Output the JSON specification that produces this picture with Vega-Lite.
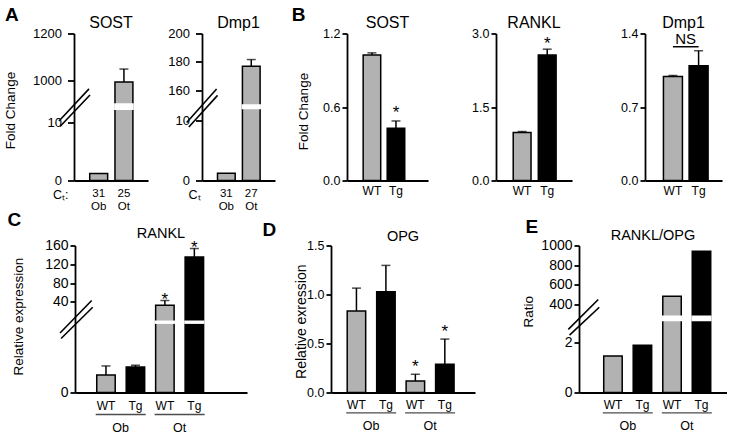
{
 "$schema": "https://vega.github.io/schema/vega-lite/v6.json",
 "background": "white",
 "padding": {"left": 0, "top": 5.5, "right": 0, "bottom": 0},
 "config": {
  "font": "Liberation Sans",
  "view": {"stroke": null},
  "axis": {"grid": false, "labelOverlap": false, "domainColor": "#000", "domainWidth": 1.8, "tickColor": "#000", "tickWidth": 1.8, "labelColor": "#000", "titleColor": "#000", "titleFontWeight": "normal", "labelFont": "Liberation Sans", "titleFont": "Liberation Sans"},
  "axisY": {"tickSize": 5, "labelPadding": 2, "labelFontSize": 13, "titleFontSize": 13.5, "tickCount": 10},
  "axisX": {"ticks": false, "labelAngle": 0, "labelFontSize": 12},
  "title": {"color": "#000", "fontWeight": "normal", "font": "Liberation Sans", "frame": "group", "baseline": "alphabetic"}
 },
 "spacing": -2,
 "vconcat": [
  {"hconcat": [
  {"width": 74, "height": 147, "data": {"values": []}, "mark": "point", "title": {"text": "A", "anchor": "start", "dx": 5, "offset": 8.6, "fontSize": 19, "fontWeight": "bold"}},
  {
   "width": 74, "height": 147,
   "title": {"text": "SOST", "fontSize": 16, "offset": -3.5},
   "data": {"values": [
     {"cells": "31|Ob", "mean": 1.2, "upper": null},
     {"cells": "25|Ot", "mean": 995, "upper": 1050}]},
   "layer": [
    {"layer": [
     {"mark": {"type": "bar", "fill": "#b2b2b2", "stroke": "#000", "strokeWidth": 1.5},
      "encoding": {
       "x": {"field": "cells", "type": "nominal", "title": "C\u209c:",
             "scale": {"domain": ["31|Ob", "25|Ot"], "paddingInner": 0.29, "paddingOuter": 0.61, "align": 0.51},
             "axis": {"labelExpr": "split(datum.label, '|')", "labelLineHeight": 13.2, "labelPadding": 6.5, "labelFontSize": 11.5, "titleX": -21.5, "titleY": 17.5, "titleAlign": "left", "titleBaseline": "alphabetic", "titleFontSize": 12.5}},
       "y": {"field": "mean", "type": "quantitative", "title": "Fold Change",
             "scale": {"domain": [0, 12.3, 902.3, 1200], "range": [147, 75.55, 70.55, 0], "nice": false, "zero": false},
             "axis": {"values": [0, 10, 1000, 1200], "tickCount": 10, "format": "d", "labelOverlap": false, "tickSize": 6.5, "labelPadding": 6, "titleX": -63.5, "titleY": 76.5, "titleBaseline": "middle"}}}},
     {"transform": [{"filter": "datum.mean > 12.3"}],
      "mark": {"type": "bar", "fill": "#fff", "stroke": "#fff", "strokeWidth": 1.7},
      "encoding": {"x": {"field": "cells", "type": "nominal", "title": "C\u209c:"}, "y": {"datum": 12.3, "type": "quantitative", "title": "Fold Change"}, "y2": {"datum": 902.3}}},
     {"transform": [{"filter": "isValid(datum.upper)"}],
      "mark": {"type": "rule", "color": "#000", "strokeWidth": 1.5},
      "encoding": {"x": {"field": "cells", "type": "nominal", "title": "C\u209c:"}, "y": {"field": "mean", "type": "quantitative", "title": "Fold Change"}, "y2": {"field": "upper"}}},
     {"transform": [{"filter": "isValid(datum.upper)"}],
      "mark": {"type": "tick", "color": "#000", "size": 9, "thickness": 1.5},
      "encoding": {"x": {"field": "cells", "type": "nominal", "title": "C\u209c:"}, "y": {"field": "upper", "type": "quantitative", "title": "Fold Change"}}}
    ]},
    {"data": {"values": [{"note": "axis break"}]}, "mark": {"type": "rule", "color": "#000", "strokeWidth": 1.6},
     "encoding": {"x": {"datum": -0.203, "type": "quantitative", "scale": {"domain": [0, 1]}, "axis": null}, "x2": {"datum": 0.203},
                  "y": {"datum": 0.405, "type": "quantitative", "scale": {"domain": [0, 1]}, "axis": null}, "y2": {"datum": 0.623}}},
    {"data": {"values": [{"note": "axis break"}]}, "mark": {"type": "rule", "color": "#000", "strokeWidth": 1.6},
     "encoding": {"x": {"datum": -0.189, "type": "quantitative", "scale": {"domain": [0, 1]}, "axis": null}, "x2": {"datum": 0.216},
                  "y": {"datum": 0.367, "type": "quantitative", "scale": {"domain": [0, 1]}, "axis": null}, "y2": {"datum": 0.582}}}
   ],
   "resolve": {"scale": {"x": "independent", "y": "independent"}}
  },
  {"width": 54, "height": 147, "data": {"values": []}, "mark": "point"},
  {
   "width": 73, "height": 147,
   "title": {"text": "Dmp1", "fontSize": 16, "offset": -3.5},
   "data": {"values": [
     {"cells": "31|Ob", "mean": 1.2, "upper": null},
     {"cells": "27|Ot", "mean": 176.9, "upper": 181.6}]},
   "layer": [
    {"layer": [
     {"mark": {"type": "bar", "fill": "#b2b2b2", "stroke": "#000", "strokeWidth": 1.5},
      "encoding": {
       "x": {"field": "cells", "type": "nominal", "title": "C\u209c",
             "scale": {"domain": ["31|Ob", "27|Ot"], "paddingInner": 0.29, "paddingOuter": 0.61, "align": 0.51},
             "axis": {"labelExpr": "split(datum.label, '|')", "labelLineHeight": 13.2, "labelPadding": 6.5, "labelFontSize": 11.5, "titleX": -14, "titleY": 17.5, "titleAlign": "left", "titleBaseline": "alphabetic", "titleFontSize": 12.5}},
       "y": {"field": "mean", "type": "quantitative", "title": null,
             "scale": {"domain": [0, 12.09, 149.5, 200], "range": [147, 74.85, 71.55, 0], "nice": false, "zero": false},
             "axis": {"values": [0, 10, 160, 180, 200], "tickCount": 10, "format": "d", "labelOverlap": false, "tickSize": 6.5, "labelPadding": 6}}}},
     {"transform": [{"filter": "datum.mean > 12.09"}],
      "mark": {"type": "bar", "fill": "#fff", "stroke": "#fff", "strokeWidth": 1.7},
      "encoding": {"x": {"field": "cells", "type": "nominal", "title": "C\u209c"}, "y": {"datum": 12.09, "type": "quantitative", "title": null}, "y2": {"datum": 149.5}}},
     {"transform": [{"filter": "isValid(datum.upper)"}],
      "mark": {"type": "rule", "color": "#000", "strokeWidth": 1.5},
      "encoding": {"x": {"field": "cells", "type": "nominal", "title": "C\u209c"}, "y": {"field": "mean", "type": "quantitative", "title": null}, "y2": {"field": "upper"}}},
     {"transform": [{"filter": "isValid(datum.upper)"}],
      "mark": {"type": "tick", "color": "#000", "size": 9, "thickness": 1.5},
      "encoding": {"x": {"field": "cells", "type": "nominal", "title": "C\u209c"}, "y": {"field": "upper", "type": "quantitative", "title": null}}}
    ]},
    {"data": {"values": [{"note": "axis break"}]}, "mark": {"type": "rule", "color": "#000", "strokeWidth": 1.6},
     "encoding": {"x": {"datum": -0.21, "type": "quantitative", "scale": {"domain": [0, 1]}, "axis": null}, "x2": {"datum": 0.2},
                  "y": {"datum": 0.395, "type": "quantitative", "scale": {"domain": [0, 1]}, "axis": null}, "y2": {"datum": 0.622}}},
    {"data": {"values": [{"note": "axis break"}]}, "mark": {"type": "rule", "color": "#000", "strokeWidth": 1.6},
     "encoding": {"x": {"datum": -0.18, "type": "quantitative", "scale": {"domain": [0, 1]}, "axis": null}, "x2": {"datum": 0.213},
                  "y": {"datum": 0.364, "type": "quantitative", "scale": {"domain": [0, 1]}, "axis": null}, "y2": {"datum": 0.579}}}
   ],
   "resolve": {"scale": {"x": "independent", "y": "independent"}}
  },
  {"width": 72, "height": 147, "data": {"values": []}, "mark": "point", "title": {"text": "B", "anchor": "start", "dx": 16.7, "offset": 8.6, "fontSize": 19, "fontWeight": "bold"}},
  {
   "width": 81, "height": 147,
   "title": {"text": "SOST", "fontSize": 16, "offset": -3.5},
   "data": {"values": [
     {"genotype": "WT", "mean": 1.024, "upper": 1.042},
     {"genotype": "Tg", "mean": 0.427, "upper": 0.486, "sig": "*"}]},
   "layer": [
    {"mark": {"type": "bar", "stroke": "#000", "strokeWidth": 1.5},
     "encoding": {
      "x": {"field": "genotype", "type": "nominal", "title": null,
            "scale": {"domain": ["WT", "Tg"], "paddingInner": 0.27, "paddingOuter": 0.82, "align": 0.41},
            "axis": {"labelPadding": 5, "labelFontSize": 12}},
      "y": {"field": "mean", "type": "quantitative", "title": "Fold Change",
            "scale": {"domain": [0, 1.2], "nice": false},
            "axis": {"values": [0, 0.6, 1.2], "format": ".1f", "labelOverlap": false, "labelFontSize": 12.5, "titleX": -43.7, "titleY": 77.5, "titleBaseline": "middle"}},
      "fill": {"field": "genotype", "type": "nominal", "scale": {"domain": ["WT", "Tg"], "range": ["#b2b2b2", "#000000"]}, "legend": null}}},
    {"mark": {"type": "rule", "color": "#000", "strokeWidth": 1.5},
     "encoding": {"x": {"field": "genotype", "type": "nominal", "title": null}, "y": {"field": "mean", "type": "quantitative", "title": "Fold Change"}, "y2": {"field": "upper"}}},
    {"mark": {"type": "tick", "color": "#000", "size": 9, "thickness": 1.5},
     "encoding": {"x": {"field": "genotype", "type": "nominal", "title": null}, "y": {"field": "upper", "type": "quantitative", "title": "Fold Change"}}},
    {"transform": [{"filter": "isValid(datum.sig)"}],
     "mark": {"type": "text", "fontSize": 17, "baseline": "alphabetic", "dy": -3},
     "encoding": {"x": {"field": "genotype", "type": "nominal", "title": null}, "y": {"field": "upper", "type": "quantitative", "title": "Fold Change"}, "text": {"field": "sig"}}}
   ]
  },
  {"width": 68, "height": 147, "data": {"values": []}, "mark": "point"},
  {
   "width": 76, "height": 147,
   "title": {"text": "RANKL", "fontSize": 16, "offset": -3.5},
   "data": {"values": [
     {"genotype": "WT", "mean": 0.981, "upper": 1.0},
     {"genotype": "Tg", "mean": 2.56, "upper": 2.68, "sig": "*"}]},
   "layer": [
    {"mark": {"type": "bar", "stroke": "#000", "strokeWidth": 1.5},
     "encoding": {
      "x": {"field": "genotype", "type": "nominal", "title": null,
            "scale": {"domain": ["WT", "Tg"], "paddingInner": 0.29, "paddingOuter": 0.66, "align": 0.52},
            "axis": {"labelPadding": 5, "labelFontSize": 12}},
      "y": {"field": "mean", "type": "quantitative", "title": null,
            "scale": {"domain": [0, 3], "nice": false},
            "axis": {"values": [0, 1.5, 3], "format": ".1f", "labelOverlap": false, "labelFontSize": 12.5}},
      "fill": {"field": "genotype", "type": "nominal", "scale": {"domain": ["WT", "Tg"], "range": ["#b2b2b2", "#000000"]}, "legend": null}}},
    {"mark": {"type": "rule", "color": "#000", "strokeWidth": 1.5},
     "encoding": {"x": {"field": "genotype", "type": "nominal", "title": null}, "y": {"field": "mean", "type": "quantitative", "title": null}, "y2": {"field": "upper"}}},
    {"mark": {"type": "tick", "color": "#000", "size": 9, "thickness": 1.5},
     "encoding": {"x": {"field": "genotype", "type": "nominal", "title": null}, "y": {"field": "upper", "type": "quantitative", "title": null}}},
    {"transform": [{"filter": "isValid(datum.sig)"}],
     "mark": {"type": "text", "fontSize": 17, "baseline": "alphabetic", "dy": -0.5},
     "encoding": {"x": {"field": "genotype", "type": "nominal", "title": null}, "y": {"field": "upper", "type": "quantitative", "title": null}, "text": {"field": "sig"}}}
   ]
  },
  {"width": 73, "height": 147, "data": {"values": []}, "mark": "point"},
  {
   "width": 77, "height": 147,
   "title": {"text": "Dmp1", "fontSize": 16, "offset": -3.5},
   "data": {"values": [
     {"genotype": "WT", "mean": 0.99, "upper": 1.0},
     {"genotype": "Tg", "mean": 1.094, "upper": 1.236}]},
   "layer": [
    {"mark": {"type": "bar", "stroke": "#000", "strokeWidth": 1.5},
     "encoding": {
      "x": {"field": "genotype", "type": "nominal", "title": null,
            "scale": {"domain": ["WT", "Tg"], "paddingInner": 0.26, "paddingOuter": 0.63, "align": 0.57},
            "axis": {"labelPadding": 5, "labelFontSize": 12}},
      "y": {"field": "mean", "type": "quantitative", "title": null,
            "scale": {"domain": [0, 1.4], "nice": false},
            "axis": {"values": [0, 0.7, 1.4], "format": ".1f", "labelOverlap": false, "labelFontSize": 12.5}},
      "fill": {"field": "genotype", "type": "nominal", "scale": {"domain": ["WT", "Tg"], "range": ["#b2b2b2", "#000000"]}, "legend": null}}},
    {"mark": {"type": "rule", "color": "#000", "strokeWidth": 1.5},
     "encoding": {"x": {"field": "genotype", "type": "nominal", "title": null}, "y": {"field": "mean", "type": "quantitative", "title": null}, "y2": {"field": "upper"}}},
    {"mark": {"type": "tick", "color": "#000", "size": 9, "thickness": 1.5},
     "encoding": {"x": {"field": "genotype", "type": "nominal", "title": null}, "y": {"field": "upper", "type": "quantitative", "title": null}}},
    {"data": {"values": [{"from": "WT", "to": "Tg", "label": "NS"}]},
     "mark": {"type": "rule", "color": "#000", "strokeWidth": 1.5},
     "encoding": {"x": {"field": "from", "type": "nominal", "title": null}, "x2": {"field": "to"}, "y": {"datum": 1.274, "type": "quantitative", "title": null}}},
    {"data": {"values": [{"from": "WT", "to": "Tg", "label": "NS"}]},
     "mark": {"type": "text", "fontSize": 15, "baseline": "alphabetic", "dx": 12.7, "dy": -3},
     "encoding": {"x": {"field": "from", "type": "nominal", "title": null}, "y": {"datum": 1.274, "type": "quantitative", "title": null}, "text": {"field": "label"}}}
   ]
  }
  ], "spacing": 0, "bounds": "flush"},
  {"hconcat": [
  {"width": 75, "height": 147, "data": {"values": []}, "mark": "point", "title": {"text": "C", "anchor": "start", "dx": 7.5, "offset": 15.3, "fontSize": 19, "fontWeight": "bold"}},
  {
   "width": 172, "height": 147,
   "title": {"text": "RANKL", "fontSize": 14.5, "offset": -2.5},
   "data": {"values": [
     {"cell": "Ob", "genotype": "WT", "mean": 1.0, "upper": 1.51},
     {"cell": "Ob", "genotype": "Tg", "mean": 1.45, "upper": 1.55},
     {"cell": "Ot", "genotype": "WT", "mean": 33.9, "upper": 43, "sig": "*"},
     {"cell": "Ot", "genotype": "Tg", "mean": 135.7, "upper": 153.6, "sig": "*"}]},
   "layer": [
    {"layer": [
     {"mark": {"type": "bar", "stroke": "#000", "strokeWidth": 1.5},
      "encoding": {
       "x": {"field": "cell", "type": "nominal", "title": null,
             "scale": {"domain": ["Ob", "Ot"], "paddingInner": 0, "paddingOuter": 0.46, "align": 0.3},
             "axis": {"labelPadding": 28.5, "labelFontSize": 12.5}},
       "xOffset": {"field": "genotype", "type": "nominal", "scale": {"domain": ["WT", "Tg"], "paddingInner": 0.373, "paddingOuter": 0.186}},
       "y": {"field": "mean", "type": "quantitative", "title": "Relative expression",
             "scale": {"domain": [0, 3.95, 4, 40, 160], "range": [147, 77.55, 75.85, 56.4, 0], "nice": false, "zero": false},
             "axis": {"values": [0, 40, 80, 120, 160], "tickCount": 10, "format": "d", "labelOverlap": false, "labelFontSize": 14, "titleX": -56.7, "titleY": 70.7, "titleBaseline": "middle"}},
       "fill": {"field": "genotype", "type": "nominal", "scale": {"domain": ["WT", "Tg"], "range": ["#b2b2b2", "#000000"]}, "legend": null}}},
     {"transform": [{"filter": "datum.mean > 4"}],
      "mark": {"type": "bar", "fill": "#fff", "stroke": "#fff", "strokeWidth": 1.7},
      "encoding": {"x": {"field": "cell", "type": "nominal", "title": null}, "xOffset": {"field": "genotype", "type": "nominal"}, "y": {"datum": 3.95, "type": "quantitative", "title": "Relative expression"}, "y2": {"datum": 4}}},
     {"mark": {"type": "rule", "color": "#000", "strokeWidth": 1.5},
      "encoding": {"x": {"field": "cell", "type": "nominal", "title": null}, "xOffset": {"field": "genotype", "type": "nominal"}, "y": {"field": "mean", "type": "quantitative", "title": "Relative expression"}, "y2": {"field": "upper"}}},
     {"mark": {"type": "tick", "color": "#000", "size": 9, "thickness": 1.5},
      "encoding": {"x": {"field": "cell", "type": "nominal", "title": null}, "xOffset": {"field": "genotype", "type": "nominal"}, "y": {"field": "upper", "type": "quantitative", "title": "Relative expression"}}},
     {"transform": [{"filter": "isValid(datum.sig)"}],
      "mark": {"type": "text", "fontSize": 17, "baseline": "alphabetic", "dy": 4.5},
      "encoding": {"x": {"field": "cell", "type": "nominal", "title": null}, "xOffset": {"field": "genotype", "type": "nominal"}, "y": {"field": "upper", "type": "quantitative", "title": "Relative expression"}, "text": {"field": "sig"}}},
     {"mark": {"type": "text", "fontSize": 12, "baseline": "alphabetic"},
      "encoding": {"x": {"field": "cell", "type": "nominal", "title": null}, "xOffset": {"field": "genotype", "type": "nominal"}, "y": {"datum": -1.0, "type": "quantitative", "title": "Relative expression"}, "text": {"field": "genotype"}}},
     {"transform": [{"filter": "datum.genotype == 'WT'"}],
      "mark": {"type": "tick", "color": "#000", "size": 50, "thickness": 1.3},
      "encoding": {"x": {"field": "cell", "type": "nominal", "title": null}, "y": {"datum": -1.25, "type": "quantitative", "title": "Relative expression"}}}
    ]},
    {"data": {"values": [{"note": "axis break"}]}, "mark": {"type": "rule", "color": "#000", "strokeWidth": 1.6},
     "encoding": {"x": {"datum": -0.087, "type": "quantitative", "scale": {"domain": [0, 1]}, "axis": null}, "x2": {"datum": 0.097},
                  "y": {"datum": 0.405, "type": "quantitative", "scale": {"domain": [0, 1]}, "axis": null}, "y2": {"datum": 0.626}}},
    {"data": {"values": [{"note": "axis break"}]}, "mark": {"type": "rule", "color": "#000", "strokeWidth": 1.6},
     "encoding": {"x": {"datum": -0.081, "type": "quantitative", "scale": {"domain": [0, 1]}, "axis": null}, "x2": {"datum": 0.103},
                  "y": {"datum": 0.367, "type": "quantitative", "scale": {"domain": [0, 1]}, "axis": null}, "y2": {"datum": 0.58}}}
   ],
   "resolve": {"scale": {"x": "independent", "y": "independent"}}
  },
  {"width": 84, "height": 147, "data": {"values": []}, "mark": "point", "title": {"text": "D", "anchor": "start", "dx": 15.5, "offset": 5.3, "fontSize": 19, "fontWeight": "bold"}},
  {
   "width": 144, "height": 147,
   "title": {"text": "OPG", "fontSize": 14.5, "offset": -5},
   "data": {"values": [
     {"cell": "Ob", "genotype": "WT", "mean": 0.832, "upper": 1.065},
     {"cell": "Ob", "genotype": "Tg", "mean": 1.027, "upper": 1.297},
     {"cell": "Ot", "genotype": "WT", "mean": 0.118, "upper": 0.186, "sig": "*"},
     {"cell": "Ot", "genotype": "Tg", "mean": 0.287, "upper": 0.545, "sig": "*"}]},
   "layer": [
    {"mark": {"type": "bar", "stroke": "#000", "strokeWidth": 1.5},
     "encoding": {
      "x": {"field": "cell", "type": "nominal", "title": null,
            "scale": {"domain": ["Ob", "Ot"], "paddingInner": 0, "paddingOuter": 0.222, "align": 0.41},
            "axis": {"labelPadding": 27.1, "labelFontSize": 12.5}},
      "xOffset": {"field": "genotype", "type": "nominal", "scale": {"domain": ["WT", "Tg"], "paddingInner": 0.373, "paddingOuter": 0.186}},
      "y": {"field": "mean", "type": "quantitative", "title": "Relative exression",
            "scale": {"domain": [0, 1.5], "nice": false},
            "axis": {"values": [0, 0.5, 1, 1.5], "format": ".1f", "labelOverlap": false, "labelFontSize": 12.5, "titleX": -30, "titleY": 75.7, "titleBaseline": "middle", "titleFontSize": 14}},
      "fill": {"field": "genotype", "type": "nominal", "scale": {"domain": ["WT", "Tg"], "range": ["#b2b2b2", "#000000"]}, "legend": null}}},
    {"mark": {"type": "rule", "color": "#000", "strokeWidth": 1.5},
     "encoding": {"x": {"field": "cell", "type": "nominal", "title": null}, "xOffset": {"field": "genotype", "type": "nominal"}, "y": {"field": "mean", "type": "quantitative", "title": "Relative exression"}, "y2": {"field": "upper"}}},
    {"mark": {"type": "tick", "color": "#000", "size": 9, "thickness": 1.5},
     "encoding": {"x": {"field": "cell", "type": "nominal", "title": null}, "xOffset": {"field": "genotype", "type": "nominal"}, "y": {"field": "upper", "type": "quantitative", "title": "Relative exression"}}},
    {"transform": [{"filter": "isValid(datum.sig)"}],
     "mark": {"type": "text", "fontSize": 17, "baseline": "alphabetic", "dy": -2},
     "encoding": {"x": {"field": "cell", "type": "nominal", "title": null}, "xOffset": {"field": "genotype", "type": "nominal"}, "y": {"field": "upper", "type": "quantitative", "title": "Relative exression"}, "text": {"field": "sig"}}},
    {"mark": {"type": "text", "fontSize": 12, "baseline": "alphabetic"},
     "encoding": {"x": {"field": "cell", "type": "nominal", "title": null}, "xOffset": {"field": "genotype", "type": "nominal"}, "y": {"datum": -0.173, "type": "quantitative", "title": "Relative exression"}, "text": {"field": "genotype"}}},
    {"transform": [{"filter": "datum.genotype == 'WT'"}],
     "mark": {"type": "tick", "color": "#000", "size": 50, "thickness": 1.3},
     "encoding": {"x": {"field": "cell", "type": "nominal", "title": null}, "y": {"datum": -0.208, "type": "quantitative", "title": "Relative exression"}}}
   ]
  },
  {"width": 104, "height": 147, "data": {"values": []}, "mark": "point", "title": {"text": "E", "anchor": "start", "dx": 50.5, "offset": 8.6, "fontSize": 19, "fontWeight": "bold"}},
  {
   "width": 148, "height": 147,
   "title": {"text": "RANKL/OPG", "fontSize": 14.5, "offset": -4.5},
   "data": {"values": [
     {"cell": "Ob", "genotype": "WT", "mean": 1.45},
     {"cell": "Ob", "genotype": "Tg", "mean": 1.87},
     {"cell": "Ot", "genotype": "WT", "mean": 484},
     {"cell": "Ot", "genotype": "Tg", "mean": 942}]},
   "layer": [
    {"layer": [
     {"mark": {"type": "bar", "stroke": "#000", "strokeWidth": 1.5},
      "encoding": {
       "x": {"field": "cell", "type": "nominal", "title": null,
             "scale": {"domain": ["Ob", "Ot"], "paddingInner": 0, "paddingOuter": 0.253, "align": 0.644},
             "axis": {"labelPadding": 27.1, "labelFontSize": 12.5}},
       "xOffset": {"field": "genotype", "type": "nominal", "scale": {"domain": ["WT", "Tg"], "paddingInner": 0.373, "paddingOuter": 0.186}},
       "y": {"field": "mean", "type": "quantitative", "title": "Ratio",
             "scale": {"domain": [0, 2.862, 279.7, 1000], "range": [147, 74.85, 70.85, 0], "nice": false, "zero": false},
             "axis": {"values": [0, 2, 400, 600, 800, 1000], "tickCount": 10, "format": "d", "labelOverlap": false, "labelFontSize": 14, "titleX": -50.7, "titleY": 65.7, "titleBaseline": "middle"}},
       "fill": {"field": "genotype", "type": "nominal", "scale": {"domain": ["WT", "Tg"], "range": ["#b2b2b2", "#000000"]}, "legend": null}}},
     {"transform": [{"filter": "datum.mean > 2.862"}],
      "mark": {"type": "bar", "fill": "#fff", "stroke": "#fff", "strokeWidth": 1.7},
      "encoding": {"x": {"field": "cell", "type": "nominal", "title": null}, "xOffset": {"field": "genotype", "type": "nominal"}, "y": {"datum": 2.862, "type": "quantitative", "title": "Ratio"}, "y2": {"datum": 279.7}}},
     {"mark": {"type": "text", "fontSize": 12, "baseline": "alphabetic"},
      "encoding": {"x": {"field": "cell", "type": "nominal", "title": null}, "xOffset": {"field": "genotype", "type": "nominal"}, "y": {"datum": -0.674, "type": "quantitative", "title": "Ratio"}, "text": {"field": "genotype"}}},
     {"transform": [{"filter": "datum.genotype == 'WT'"}],
      "mark": {"type": "tick", "color": "#000", "size": 50, "thickness": 1.3},
      "encoding": {"x": {"field": "cell", "type": "nominal", "title": null}, "y": {"datum": -0.809, "type": "quantitative", "title": "Ratio"}}}
    ]},
    {"data": {"values": [{"note": "axis break"}]}, "mark": {"type": "rule", "color": "#000", "strokeWidth": 1.6},
     "encoding": {"x": {"datum": -0.072, "type": "quantitative", "scale": {"domain": [0, 1]}, "axis": null}, "x2": {"datum": 0.13},
                  "y": {"datum": 0.429, "type": "quantitative", "scale": {"domain": [0, 1]}, "axis": null}, "y2": {"datum": 0.633}}},
    {"data": {"values": [{"note": "axis break"}]}, "mark": {"type": "rule", "color": "#000", "strokeWidth": 1.6},
     "encoding": {"x": {"datum": -0.064, "type": "quantitative", "scale": {"domain": [0, 1]}, "axis": null}, "x2": {"datum": 0.137},
                  "y": {"datum": 0.39, "type": "quantitative", "scale": {"domain": [0, 1]}, "axis": null}, "y2": {"datum": 0.58}}}
   ],
   "resolve": {"scale": {"x": "independent", "y": "independent"}}
  }
  ], "spacing": 0, "bounds": "flush"}
 ]
}
